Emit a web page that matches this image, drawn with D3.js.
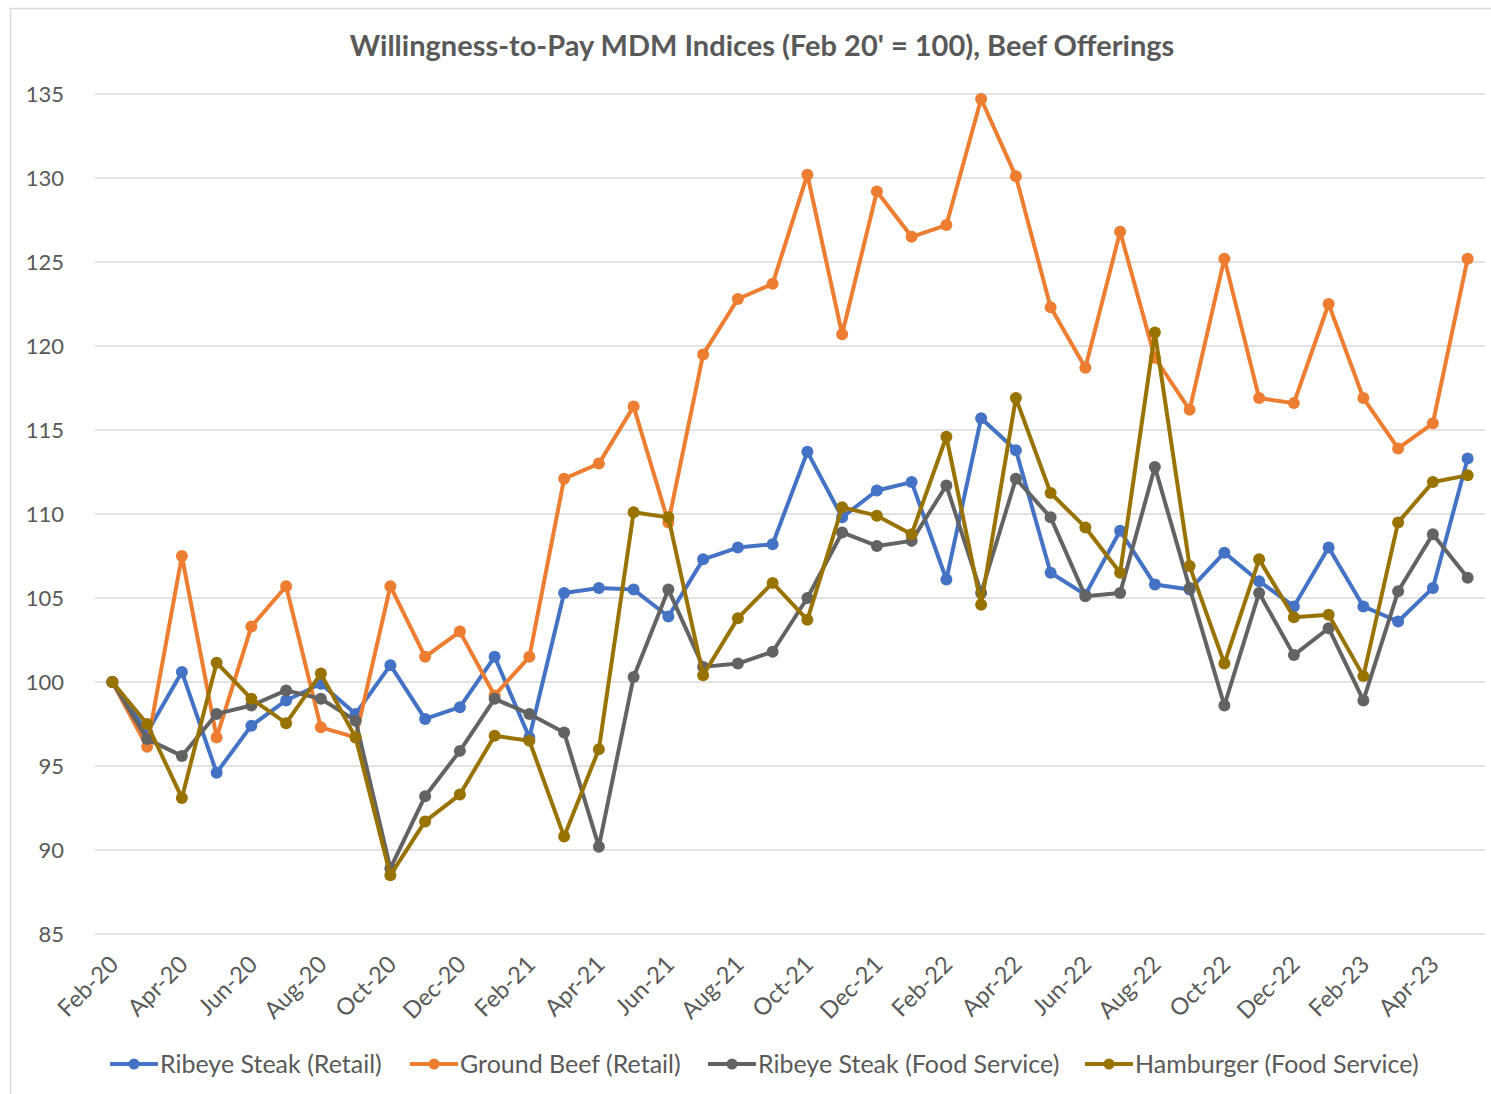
<!DOCTYPE html>
<html>
<head>
<meta charset="utf-8">
<script src="https://cdn.jsdelivr.net/npm/d3@7"></script>
<style>
  body { margin: 0; background: #fff; }
  text { font-family: Lato, "Noto Sans", sans-serif; fill: #595959; }
</style>
</head>
<body>
<div id="chart"></div>
<script>
var width = 1491,
    height = 1094

// months Feb-20 .. May-23
var months = ["Feb-20","Mar-20","Apr-20","May-20","Jun-20","Jul-20","Aug-20","Sep-20","Oct-20","Nov-20","Dec-20",
  "Jan-21","Feb-21","Mar-21","Apr-21","May-21","Jun-21","Jul-21","Aug-21","Sep-21","Oct-21","Nov-21","Dec-21",
  "Jan-22","Feb-22","Mar-22","Apr-22","May-22","Jun-22","Jul-22","Aug-22","Sep-22","Oct-22","Nov-22","Dec-22",
  "Jan-23","Feb-23","Mar-23","Apr-23","May-23"]

var ribeyeRetail = [100, 97.0, 100.6, 94.6, 97.4, 98.9, 99.9, 98.1, 101.0, 97.8, 98.5, 101.5, 96.7, 105.3, 105.6, 105.5,
  103.9, 107.3, 108.0, 108.2, 113.7, 109.8, 111.4, 111.9, 106.1, 115.7, 113.8, 106.5, 105.2, 109.0, 105.8, 105.5,
  107.7, 106.0, 104.5, 108.0, 104.5, 103.6, 105.6, 113.3]
var groundBeefRetail = [100, 96.15, 107.5, 96.7, 103.3, 105.7, 97.3, 96.7, 105.7, 101.5, 103.0, 99.2, 101.5, 112.1, 113.0, 116.4,
  109.5, 119.5, 122.8, 123.7, 130.2, 120.7, 129.2, 126.5, 127.2, 134.7, 130.1, 122.3, 118.7, 126.8, 119.3, 116.2,
  125.2, 116.9, 116.6, 122.5, 116.9, 113.9, 115.4, 125.2]
var ribeyeFood = [100, 96.6, 95.6, 98.1, 98.6, 99.5, 99.0, 97.7, 88.9, 93.2, 95.9, 99.0, 98.1, 97.0, 90.2, 100.3,
  105.5, 100.9, 101.1, 101.8, 105.0, 108.9, 108.1, 108.4, 111.7, 105.3, 112.1, 109.8, 105.1, 105.3, 112.8, 105.6,
  98.6, 105.3, 101.6, 103.2, 98.9, 105.4, 108.8, 106.2]
var hamburgerFood = [100, 97.5, 93.1, 101.15, 99.0, 97.55, 100.5, 96.7, 88.5, 91.7, 93.3, 96.8, 96.5, 90.8, 96.0, 110.1,
  109.8, 100.4, 103.8, 105.9, 103.7, 110.4, 109.9, 108.8, 114.6, 104.6, 116.9, 111.25, 109.2, 106.5, 120.8, 106.9,
  101.1, 107.3, 103.85, 104.0, 100.35, 109.5, 111.9, 112.3]

var seriesNames = ["Ribeye Steak (Retail)", "Ground Beef (Retail)", "Ribeye Steak (Food Service)", "Hamburger (Food Service)"]
var seriesColors = ["#4472C4", "#ED7D31", "#636363", "#997300"]
var yTicks = [85, 90, 95, 100, 105, 110, 115, 120, 125, 130, 135]

var series = [ribeyeRetail, groundBeefRetail, ribeyeFood, hamburgerFood].map(function(vals, i) {
  return { name: seriesNames[i], color: seriesColors[i],
    values: vals.map(function(v, j) { return { month: months[j], value: v } }) }
})

var svg = d3.select("#chart")
  .append("svg")
    .attr("width", width)
    .attr("height", height)

// chart border
svg.append("rect")
  .attr("x", 10.5).attr("y", 8.5)
  .attr("width", 1500).attr("height", 1100)
  .attr("fill", "none")
  .attr("stroke", "#d9d9d9")
  .attr("stroke-width", 1.5)

svg.append("text")
  .attr("x", 762).attr("y", 56)
  .attr("text-anchor", "middle")
  .style("font-size", "29px")
  .style("font-weight", "bold")
  .text("Willingness-to-Pay  MDM Indices (Feb 20' = 100), Beef Offerings")

var x = d3.scalePoint()
  .domain(months)
  .range([95, 1485])
  .padding(0.5)

var y = d3.scaleLinear()
  .domain([85, 135])
  .range([934, 94])

// gridlines
svg.append("g")
  .selectAll("line")
  .data(yTicks)
  .enter()
  .append("line")
    .attr("x1", 95).attr("x2", 1485)
    .attr("y1", function(d) { return y(d) }).attr("y2", function(d) { return y(d) })
    .attr("stroke", "#d9d9d9")
    .attr("stroke-width", 1.5)

// y axis labels
var yAxis = svg.append("g")
  .attr("transform", "translate(70,0)")
  .call(d3.axisLeft(y).tickValues(yTicks).tickSize(0).tickPadding(6))
yAxis.select(".domain").remove()
yAxis.selectAll("text")
  .style("font-size", "22px")
  .style("font-family", "Lato, sans-serif")
  .attr("fill", "#595959")

// x axis labels, every other month
var xAxis = svg.append("g")
  .attr("transform", "translate(0,945)")
  .call(d3.axisBottom(x)
    .tickValues(months.filter(function(d, i) { return i % 2 == 0 }))
    .tickSize(0))
xAxis.select(".domain").remove()
xAxis.selectAll("text")
  .style("font-size", "23.5px")
  .style("font-family", "Lato, sans-serif")
  .attr("fill", "#595959")
  .attr("text-anchor", "end")
  .attr("dy", "0.35em")
  .attr("transform", "translate(-1,13) rotate(-45)")

var line = d3.line()
  .x(function(d) { return x(d.month) })
  .y(function(d) { return y(d.value) })

var g = svg.selectAll(".series")
  .data(series)
  .enter()
  .append("g")
    .attr("class", "series")

g.append("path")
  .attr("d", function(d) { return line(d.values) })
  .attr("fill", "none")
  .attr("stroke", function(d) { return d.color })
  .attr("stroke-width", 4)
  .attr("stroke-linejoin", "round")

g.selectAll("circle")
  .data(function(d) { return d.values.map(function(v) { return { v: v, color: d.color } }) })
  .enter()
  .append("circle")
    .attr("cx", function(d) { return x(d.v.month) })
    .attr("cy", function(d) { return y(d.v.value) })
    .attr("r", 6)
    .attr("fill", function(d) { return d.color })

// legend
var legendX = [110, 410, 708, 1085]
var lg = svg.selectAll(".legend")
  .data(series)
  .enter()
  .append("g")
    .attr("class", "legend")
    .attr("transform", function(d, i) { return "translate(" + legendX[i] + ",1064)" })

lg.append("line")
  .attr("x1", 0).attr("x2", 48)
  .attr("stroke", function(d) { return d.color })
  .attr("stroke-width", 4)
lg.append("circle")
  .attr("cx", 24).attr("r", 5.5)
  .attr("fill", function(d) { return d.color })
lg.append("text")
  .attr("x", 50)
  .attr("dy", "0.35em")
  .style("font-size", "25px")
  .text(function(d) { return d.name })
</script>
</body>
</html>
